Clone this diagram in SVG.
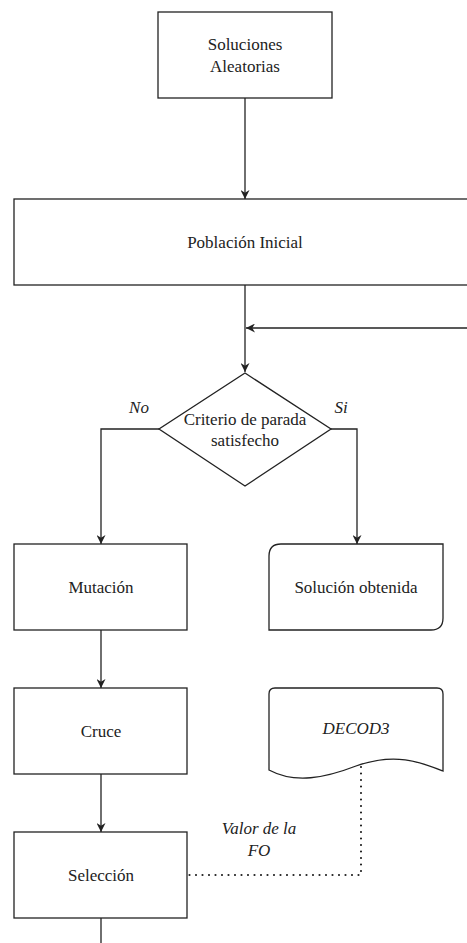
<svg xmlns="http://www.w3.org/2000/svg" width="467" height="943" viewBox="0 0 467 943">
<defs>
<marker id="a" viewBox="0 0 10 10" refX="10" refY="5" markerWidth="9" markerHeight="9" markerUnits="userSpaceOnUse" orient="auto">
<path d="M0,0 L10,5 L0,10 L3,5 z" fill="#222"/>
</marker>
</defs>
<rect width="467" height="943" fill="#fff"/>
<g id="connectors" fill="none" stroke="#222" stroke-width="1.3">
<path d="M245,98 V199" marker-end="url(#a)"/>
<path d="M245,285 V372" marker-end="url(#a)"/>
<path d="M467,328 H246" marker-end="url(#a)"/>
<path d="M159,429 H101 V544" marker-end="url(#a)"/>
<path d="M331,429 H357 V544" marker-end="url(#a)"/>
<path d="M101,630 V688" marker-end="url(#a)"/>
<path d="M101,774 V832" marker-end="url(#a)"/>
<path d="M101,918 V943"/>
<path d="M361,767 V875 H188" stroke-width="2.2" stroke-dasharray="0 6.5" stroke-linecap="round"/>
<text x="259" y="834" style="font-family:'Liberation Serif',serif;font-size:17px;font-style:italic;fill:#222;stroke:none;text-anchor:middle">Valor de la</text>
<text x="259" y="856" style="font-family:'Liberation Serif',serif;font-size:17px;font-style:italic;fill:#222;stroke:none;text-anchor:middle">FO</text>
<text x="139" y="413" style="font-family:'Liberation Serif',serif;font-size:17px;font-style:italic;fill:#222;stroke:none;text-anchor:middle">No</text>
<text x="341" y="413" style="font-family:'Liberation Serif',serif;font-size:17px;font-style:italic;fill:#222;stroke:none;text-anchor:middle">Si</text>
</g>
<g id="soluciones">
<rect x="158" y="12" width="174" height="86" fill="#fff" stroke="#222" stroke-width="1.3"/>
<text x="245" y="50" style="font-family:'Liberation Serif',serif;font-size:17px;fill:#222;text-anchor:middle">Soluciones</text>
<text x="245" y="72" style="font-family:'Liberation Serif',serif;font-size:17px;fill:#222;text-anchor:middle">Aleatorias</text>
</g>
<g id="poblacion">
<rect x="14" y="199" width="470" height="86" fill="#fff" stroke="#222" stroke-width="1.3"/>
<text x="245" y="248" style="font-family:'Liberation Serif',serif;font-size:17px;fill:#222;text-anchor:middle">Población Inicial</text>
</g>
<g id="criterio">
<path d="M245,373 L331,429 L245,486 L159,429 Z" fill="#fff" stroke="#222" stroke-width="1.3"/>
<text x="245" y="425" style="font-family:'Liberation Serif',serif;font-size:17px;fill:#222;text-anchor:middle">Criterio de parada</text>
<text x="245" y="446" style="font-family:'Liberation Serif',serif;font-size:17px;fill:#222;text-anchor:middle">satisfecho</text>
</g>
<g id="mutacion">
<rect x="14" y="544" width="173" height="86" fill="#fff" stroke="#222" stroke-width="1.3"/>
<text x="101" y="593" style="font-family:'Liberation Serif',serif;font-size:17px;fill:#222;text-anchor:middle">Mutación</text>
</g>
<g id="solucion">
<path d="M281,544 H443 V618 Q443,630 431,630 H269 V556 Q269,544 281,544 Z" fill="#fff" stroke="#222" stroke-width="1.3"/>
<text x="356" y="593" style="font-family:'Liberation Serif',serif;font-size:17px;fill:#222;text-anchor:middle">Solución obtenida</text>
</g>
<g id="cruce">
<rect x="14" y="688" width="173" height="86" fill="#fff" stroke="#222" stroke-width="1.3"/>
<text x="101" y="737" style="font-family:'Liberation Serif',serif;font-size:17px;fill:#222;text-anchor:middle">Cruce</text>
</g>
<g id="seleccion">
<rect x="14" y="832" width="173" height="86" fill="#fff" stroke="#222" stroke-width="1.3"/>
<text x="101" y="881" style="font-family:'Liberation Serif',serif;font-size:17px;fill:#222;text-anchor:middle">Selección</text>
</g>
<g id="decod3">
<path d="M275,688 H437 Q443,688 443,694 V771 C420,762 395,752 356,766 C325,778 295,784 269,770 V694 Q269,688 275,688 Z" fill="#fff" stroke="#222" stroke-width="1.3"/>
<text x="356" y="734" style="font-family:'Liberation Serif',serif;font-size:17px;font-style:italic;fill:#222;text-anchor:middle">DECOD3</text>
</g>
</svg>
